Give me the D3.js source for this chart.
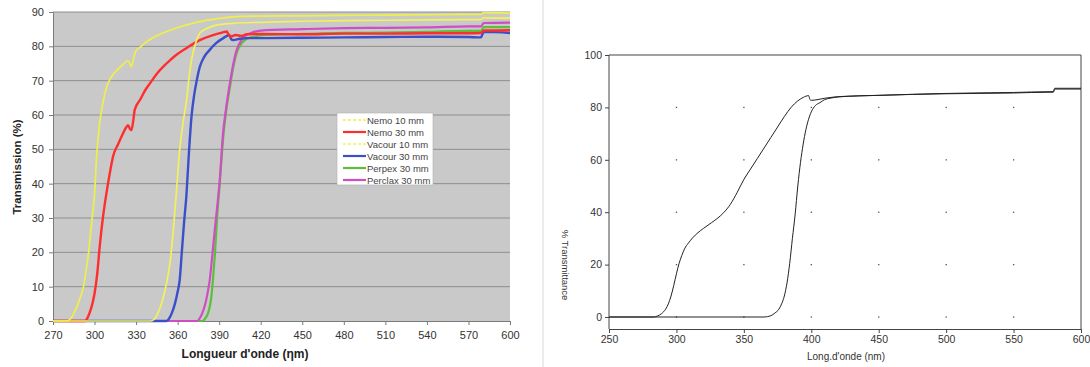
<!DOCTYPE html>
<html><head><meta charset="utf-8">
<script src="https://cdn.jsdelivr.net/npm/d3@7"></script>
<style>body{margin:0;background:#fff}svg{display:block;font-family:"Liberation Sans",Arial,sans-serif}</style>
</head><body><svg id="c" width="1090" height="367"></svg>
<script>
// ---------- LEFT CHART DATA ----------
const leftXTicks = [270,300,330,360,390,420,450,480,510,540,570,600];
const leftYTicks = [0,10,20,30,40,50,60,70,80,90];
const seriesNames = ["Nemo 10 mm","Nemo 30 mm","Vacour 10 mm","Vacour 30 mm","Perpex 30 mm","Perclax 30 mm"];
const nemo10 = [[270,0],[280,0],[283,0.8],[286,3],[289,6],[292,10],[294,15],[296,21],[298,29],[300,37],[301.5,48],[303.5,57],[306,63.5],[309,68.5],[312,71],[316,73],[320,74.5],[324,75.8],[325.5,75],[326.5,74],[328,76],[329.5,78.4],[333,79.8],[340,82],[346,83.3],[352,84.3],[360,85.5],[368,86.4],[376,87.2],[388,88],[400,88.6],[420,88.8],[450,88.9],[480,89],[510,89.1],[540,89.2],[570,89.3],[579,89.3],[581,89.8],[600,89.7]];
const nemo30 = [[270,0],[293,0],[295,1],[297,3],[299,6],[300,8],[302,14],[303.7,21.6],[306,30],[308.5,37],[311,43],[313.4,48],[317,51.5],[320.6,54.7],[323,56.5],[324.2,57],[325.5,56],[326.6,55.6],[328,58.5],[329,61.5],[333,64.5],[337,67.5],[340,69.2],[345,72],[352,75],[358,77.2],[366,79.4],[376,81.8],[385,83.2],[392,84],[395.5,84.3],[396.5,83.6],[398,82.8],[402,83.3],[406,83],[410,83.5],[420,83.6],[450,83.5],[480,83.7],[510,83.7],[540,83.8],[570,83.8],[579,83.9],[581,84.6],[600,84.7]];
const vacour10 = [[270,0],[340,0],[343,0.5],[346,2.5],[349,6],[352,11],[354.5,17],[357,27],[359,37],[361.5,50],[364,58],[366.5,64.5],[368,70],[370,76],[372,79.5],[376,83.8],[380,85],[388,86.2],[400,86.7],[420,87],[450,87.3],[480,87.5],[510,87.6],[540,87.7],[570,87.8],[579,87.8],[581,88.3],[600,88.2]];
const vacour30 = [[270,0],[352,0],[354,0.8],[356,2.5],[358,5],[360,8.5],[361.5,12],[363,20],[364.5,28],[366.4,37],[368,48],[370,59.5],[372,66],[374,70.5],[376,74],[379,76.8],[383,78.9],[388,81],[393,82.4],[397.5,83.3],[398.5,82.2],[400,81.8],[405,82.2],[410,82.4],[420,82.4],[450,82.5],[480,82.6],[510,82.7],[540,82.8],[570,82.7],[579,82.6],[581,84.2],[600,83.9]];
const perpex30 = [[270,0],[378,0],[380,0.8],[382,2.3],[384,6],[385.5,12],[387,20],[388.5,30],[390.4,40],[392.8,53],[395,61],[397.7,68],[400,73.5],[402.6,78],[406,80.8],[410,82.2],[415,82.8],[420,83.2],[450,83.6],[480,83.9],[510,84],[540,84.2],[570,84.5],[579,84.5],[581,85.6],[600,85.6]];
const perclax30 = [[270,0],[374,0],[376,0.8],[378,2.5],[380,5],[382,9],[383.2,12],[385,19],[386.8,26.5],[388.5,33],[390.4,41],[392.8,54.7],[395,62],[397.7,69.2],[400,74.5],[402.6,78.9],[406,81.8],[409.8,83.3],[415,84.2],[420,84.6],[450,85],[480,85.3],[510,85.4],[540,85.5],[570,85.8],[579,85.8],[581,86.8],[600,86.9]];

// ---------- RIGHT CHART DATA ----------
const rightXTicks = [250,300,350,400,450,500,550,600];
const rightYTicks = [0,20,40,60,80,100];
const curveA = [[250,0],[283,0],[286,0.4],[289,1.3],[292,3],[294,5],[296,8],[298,12],[300,16.5],[302,20.5],[304,23.5],[306,26],[309,28.3],[312,30.2],[316,32.2],[320,33.8],[326,36],[330,37.5],[335,39.8],[340,43],[345,47.5],[350,52.5],[355,56.5],[360,60.5],[365,64.5],[370,68.5],[375,72.5],[380,76.5],[385,80],[390,82.5],[394,83.8],[398,84.5],[399,83],[400,82.7],[405,83],[410,83.5],[423.5,84.2],[450,84.6],[475,85],[497.6,85.3],[520,85.5],[550,85.7],[577,86],[579.5,86],[580.5,87.3],[600,87.3]];
const curveB = [[250,0],[365,0],[370,0.5],[373,1.5],[376,3],[378,5],[380,8],[382,13],[384,20.5],[386,30],[388,39],[390,50],[392,59],[394,66],[396,71.5],[398,75.5],[400,78.3],[403,80.7],[406.4,81.8],[410,83],[414,83.5],[420,84],[450,84.6],[500,85.2],[550,85.5],[577,85.8],[579.5,85.8],[580.5,87],[600,87]];

const svg = d3.select("#c");

// separator
svg.append("line").attr("x1",543).attr("x2",543).attr("y1",0).attr("y2",367).attr("stroke","#d8d8d8");

// ---------- LEFT ----------
const lx = d3.scaleLinear().domain([270,600]).range([53,510]);
const ly = d3.scaleLinear().domain([0,90]).range([321,12]);
const L = svg.append("g");
L.append("rect").attr("x",lx(270)).attr("y",ly(90)).attr("width",lx(600)-lx(270)).attr("height",ly(0)-ly(90)).attr("fill","#c9c9c9");
L.selectAll("line.grid").data(leftYTicks.filter(d=>d>0)).join("line")
  .attr("x1",lx(270)).attr("x2",lx(600)).attr("y1",d=>ly(d)).attr("y2",d=>ly(d))
  .attr("stroke","#8e8e8e").attr("stroke-width",1);
const lyAxis = L.append("g").attr("transform",`translate(${lx(270)},0)`)
  .call(d3.axisLeft(ly).tickValues(leftYTicks).tickSize(4).tickPadding(5));
const lxAxis = L.append("g").attr("transform",`translate(0,${ly(0)})`)
  .call(d3.axisBottom(lx).tickValues(leftXTicks).tickSize(4).tickPadding(6));
[lyAxis,lxAxis].forEach(a=>{a.selectAll("path,line").attr("stroke","#7a7a7a");a.selectAll("text").attr("fill","#333").attr("font-size",11);});

const colors = ["#eef04a","#ff2e2e","#f2f25a","#3a4fc8","#5cbf3c","#d04ec4"];
const widths = [1.7,2.4,1.7,2.4,2.2,2.2];
const leftData = [nemo10,nemo30,vacour10,vacour30,perpex30,perclax30];
const lline = d3.line().x(d=>lx(d[0])).y(d=>ly(d[1])).curve(d3.curveMonotoneX);
const order = [4,5,3,1,2,0];
order.forEach(i=>{
  L.append("path").attr("d",lline(leftData[i])).attr("fill","none")
   .attr("stroke",colors[i]).attr("stroke-width",widths[i]).attr("stroke-linejoin","round");
});

// legend
const lg = L.append("g");
lg.append("rect").attr("x",337).attr("y",113).attr("width",96).attr("height",72).attr("fill","#fff").attr("stroke","#b0b0b0").attr("stroke-width",0.6);
seriesNames.forEach((n,i)=>{
  const yy = 120 + i*12;
  lg.append("line").attr("x1",343).attr("x2",366).attr("y1",yy).attr("y2",yy)
    .attr("stroke",colors[i]).attr("stroke-width",(i===0||i===2)?1.4:2.2)
    .attr("stroke-dasharray",(i===0||i===2)?"3,2":null);
  lg.append("text").attr("x",367).attr("y",yy+3.5).text(n).attr("font-size",9.5).attr("fill","#444");
});

L.append("text").attr("x",245).attr("y",358).attr("text-anchor","middle").attr("font-weight","bold").attr("font-size",12).attr("fill","#222").text("Longueur d'onde (ηm)");
L.append("text").attr("transform","translate(21,167) rotate(-90)").attr("text-anchor","middle").attr("font-weight","bold").attr("font-size",11.5).attr("fill","#222").text("Transmission (%)");

// ---------- RIGHT ----------
const rx = d3.scaleLinear().domain([250,600]).range([609,1081]);
const ry = d3.scaleLinear().domain([0,100]).range([317,55]);
const yBottom = 329;
const R = svg.append("g");
// grid dots
const dotX = rightXTicks.filter(d=>d>250&&d<600), dotY = rightYTicks.filter(d=>d<100);
dotX.forEach(x=>dotY.forEach(y=>{
  R.append("rect").attr("x",rx(x)-0.6).attr("y",ry(y)-0.6).attr("width",1.3).attr("height",1.3).attr("fill","#555");
}));
// box
R.append("path").attr("d",`M${rx(250)},${ry(100)}H${rx(600)}V${yBottom}`).attr("fill","none").attr("stroke","#444").attr("stroke-width",1);
const ryAxis = R.append("g").attr("transform",`translate(${rx(250)},0)`)
  .call(d3.axisLeft(ry).tickValues(rightYTicks).tickSize(4).tickPadding(3));
ryAxis.select(".domain").attr("d",`M0,${ry(100)}V${yBottom}`);
const rxAxis = R.append("g").attr("transform",`translate(0,${yBottom})`)
  .call(d3.axisBottom(rx).tickValues(rightXTicks).tickSize(4).tickPadding(3));
[ryAxis,rxAxis].forEach(a=>{a.selectAll("path,line").attr("stroke","#444");a.selectAll("text").attr("fill","#333").attr("font-size",10.5);});

const rline = d3.line().x(d=>rx(d[0])).y(d=>ry(d[1])).curve(d3.curveMonotoneX);
[curveB,curveA].forEach(c=>{
  R.append("path").attr("d",rline(c)).attr("fill","none").attr("stroke","#222").attr("stroke-width",1);
});

R.append("text").attr("x",846).attr("y",360).attr("text-anchor","middle").attr("font-size",10).attr("fill","#333").text("Long.d'onde (nm)");
R.append("text").attr("transform","translate(562,265) rotate(90)").attr("text-anchor","middle").attr("font-size",9.5).attr("fill","#333").text("% Transmittance");
</script></body></html>
